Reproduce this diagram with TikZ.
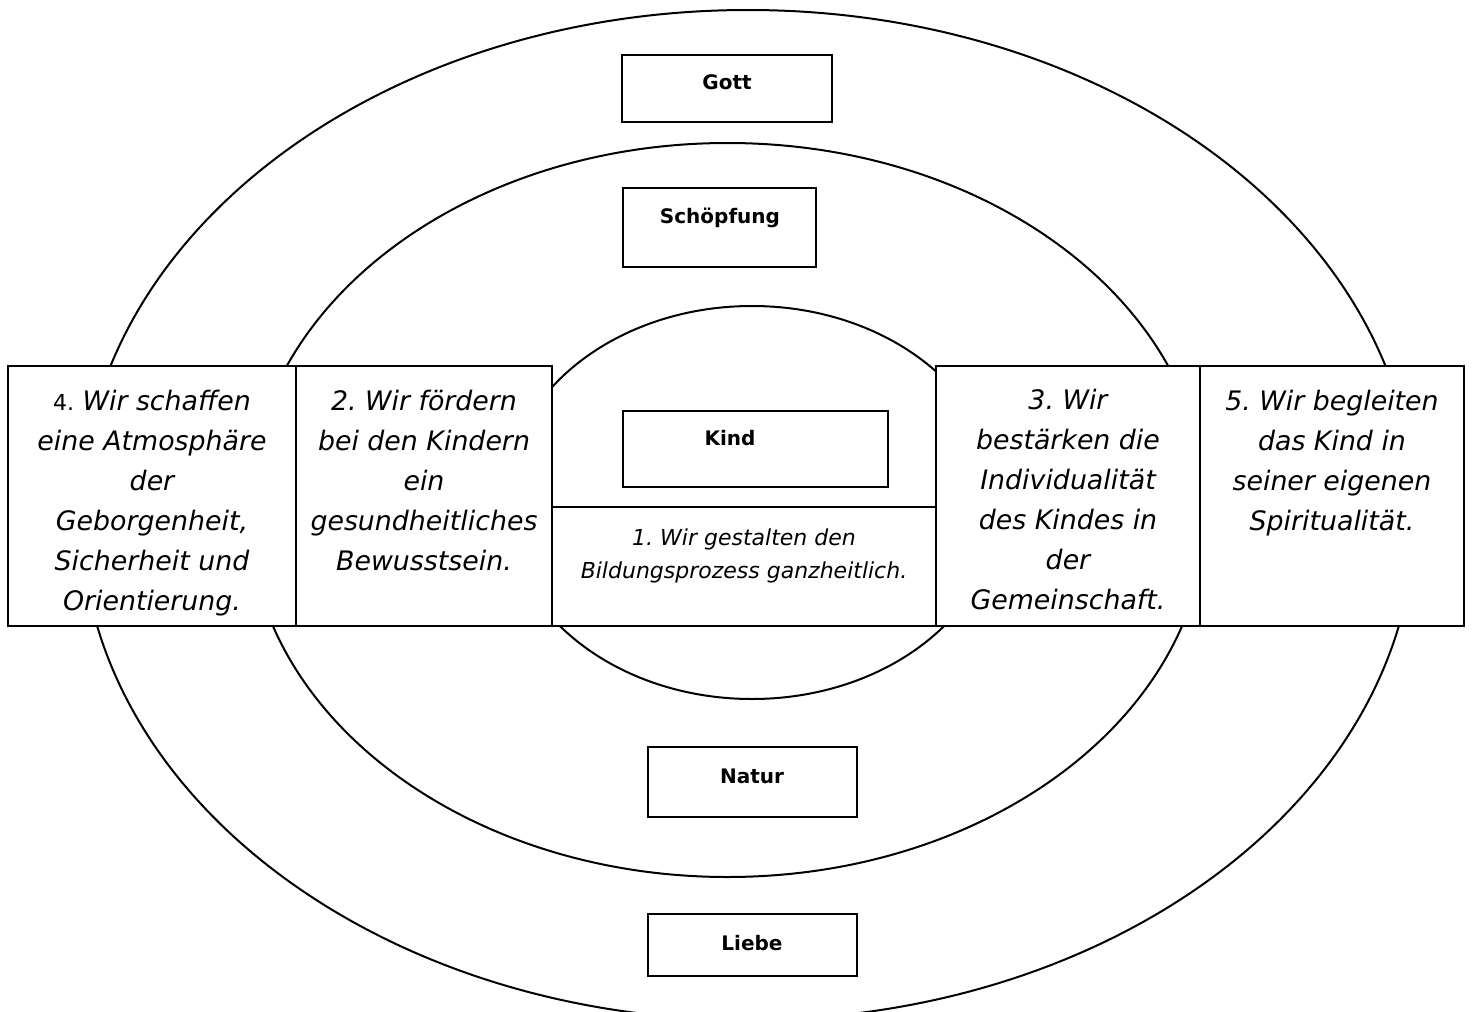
\documentclass[tikz,border=0pt]{standalone}
\usepackage{fontspec}
\setmainfont{DejaVu Sans}
\usetikzlibrary{fit}
\frenchspacing
\begin{document}
\begin{tikzpicture}[x=0.5pt,y=-0.5pt,
  ring/.style={draw, line width=1pt},
  box/.style={draw, line width=1.1pt, fill=white, inner sep=0pt},
  lbl/.style={font=\bfseries\fontsize{10}{12}\selectfont, inner sep=0pt, anchor=base},
  bigtext/.style={font=\itshape\fontsize{13.4}{20}\selectfont, align=center, inner sep=0pt, anchor=north},
  smalltext/.style={font=\itshape\fontsize{11}{16.5}\selectfont, align=center, inner sep=0pt, anchor=north}]
\useasboundingbox (0,0) rectangle (1474,1012);
\clip (0,0) rectangle (1474,1012);
% rings
\draw[ring] (748,515) ellipse [x radius=333.5pt, y radius=252.5pt];
\draw[ring] (727.5,510) ellipse [x radius=239.5pt, y radius=183.5pt];
\draw[ring] (752,502.5) ellipse [x radius=123.5pt, y radius=98.25pt];
% label boxes
\node[box, fit={(622,55) (832,122)}] (gott) {};
\node[lbl] (gotttext) at (727,90) {Gott};
\node[box, fit={(623,188) (816,267)}] (schoepfung) {};
\node[lbl] (schoepfungtext) at (720,223) {Schöpfung};
\node[box, fit={(623,411) (888,487)}] (kind) {};
\node[lbl] (kindtext) at (730,445) {Kind};
\node[box, fit={(648,747) (857,817)}] (natur) {};
\node[lbl] (naturtext) at (752,783) {Natur};
\node[box, fit={(648,914) (857,976)}] (liebe) {};
\node[lbl] (liebetext) at (752,950) {Liebe};
% row of statement boxes
\node[box, fit={(8,366) (296,626)}] (b4) {};
\node[box, fit={(296,366) (552,626)}] (b2) {};
\node[box, fit={(552,507) (936,626)}] (b1) {};
\node[box, fit={(936,366) (1200,626)}] (b3) {};
\node[box, fit={(1200,366) (1464,626)}] (b5) {};
\node[bigtext] (t4) at (152,382) {\strut{\upshape\fontsize{11}{20}\selectfont 4.} Wir schaffen\\eine Atmosphäre\\der\\Geborgenheit,\\Sicherheit und\\Orientierung.};
\node[bigtext] (t2) at (424,382) {\strut 2. Wir fördern\\bei den Kindern\\ein\\gesundheitliches\\Bewusstsein.};
\node[smalltext] (t1) at (744,522) {\strut 1. Wir gestalten den\\Bildungsprozess ganzheitlich.};
\node[bigtext] (t3) at (1068,381) {\strut 3. Wir\\bestärken die\\Individualität\\des Kindes in\\der\\Gemeinschaft.};
\node[bigtext] (t5) at (1332,382) {\strut 5. Wir begleiten\\das Kind in\\seiner eigenen\\Spiritualität.};
\end{tikzpicture}
\end{document}
